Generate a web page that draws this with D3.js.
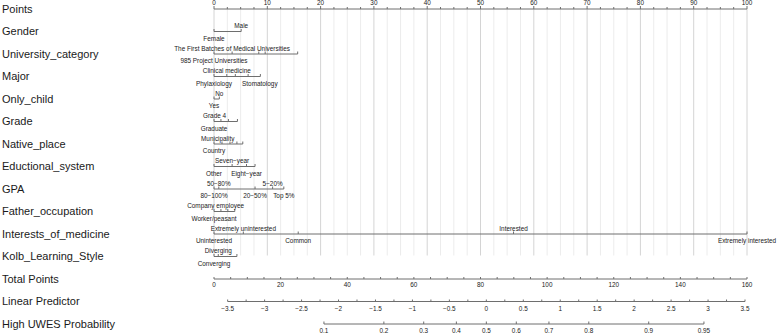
<!DOCTYPE html>
<html><head><meta charset="utf-8">
<script src="https://cdn.jsdelivr.net/npm/d3@7/dist/d3.min.js"></script>
<style>body{margin:0;background:#fff}svg{display:block}text{font-family:"Liberation Sans",Arial,sans-serif}</style>
</head><body><svg id="chart" width="777" height="334"></svg>
<script>
// ---- data ----
const rowNames = ["Points","Gender","University_category","Major","Only_child","Grade","Native_place",
  "Eductional_system","GPA","Father_occupation","Interests_of_medicine","Kolb_Learning_Style",
  "Total Points","Linear Predictor","High UWES Probability"];
const pointsTicks = [0,10,20,30,40,50,60,70,80,90,100];
const gridPoints = d3.range(0, 100.01, 2.5);

const genderLabels = ["Male","Female"], genderPoints = [5.1,0], genderSide = ["up","down"], genderTicks = [0,5.1];
const univLabels = ["The First Batches of Medical Universities","985 Project Universities"], univPoints = [3.4,0], univSide = ["up","down"], univTicks = [0,3.4,8.4,9.6,15.7];
const majorLabels = ["Clinical medicine","Phylaxiology","Stomatology"], majorPoints = [2.4,0,8.6], majorSide = ["up","down","down"], majorTicks = [0,2.4,4,6.4,8.7];
const onlyLabels = ["No","Yes"], onlyPoints = [1.0,0], onlySide = ["up","down"], onlyTicks = [0,1.0];
const gradeLabels = ["Grade 4","Graduate"], gradePoints = [0.1,0], gradeSide = ["up","down"], gradeTicks = [0,1.3,2.7,4.4];
const nativeLabels = ["Municipality","Country"], nativePoints = [0.7,0], nativeSide = ["up","down"], nativeTicks = [0,1.5,3,4.3,5.4];
const eduLabels = ["Seven\u2212year","Other","Eight\u2212year"], eduPoints = [3.4,0,6.1], eduSide = ["up","down","down"], eduTicks = [0,3.4,6.1,7.7];
const gpaLabels = ["50\u221280%","5\u221220%","80\u2212100%","20\u221250%","Top 5%"], gpaPoints = [0.9,11,0,7.7,13.1], gpaSide = ["up","up","down","down","down"], gpaTicks = [0,0.9,7.7,11,13.1];
const fatherLabels = ["Company employee","Worker/peasant"], fatherPoints = [0.3,0], fatherSide = ["up","down"], fatherTicks = [0,1.3,2.6,3.9];
const interestLabels = ["Extremely uninterested","Interested","Uninterested","Common","Extremely interested"], interestPoints = [5.5,56.2,0,15.8,100], interestSide = ["up","up","down","down","down"], interestTicks = [0,5.5,15.8,56.2,100];
const kolbLabels = ["Diverging","Converging"], kolbPoints = [0.8,0], kolbSide = ["up","down"], kolbTicks = [0,0.8,4.3];

const totalTicks = [0,20,40,60,80,100,120,140,160];
const totalMinor = d3.range(0,160.01,5);
const lpTicks = [-3.5,-3,-2.5,-2,-1.5,-1,-0.5,0,0.5,1,1.5,2,2.5,3,3.5];
const lpMinor = d3.range(-3.5,3.501,0.25);
const lpEndsTotal = [4.1,159.4];   // total points at LP -3.5 and 3.5
const probTicks = [0.1,0.2,0.3,0.4,0.5,0.6,0.7,0.8,0.9,0.95];

// ---- drawing ----
const svg = d3.select("#chart");
const x = d3.scaleLinear().domain([0,100]).range([214,747]);
const xTot = d3.scaleLinear().domain([0,160]).range([214,747]);
const xLp = d3.scaleLinear().domain([-3.5,3.5]).range([xTot(lpEndsTotal[0]), xTot(lpEndsTotal[1])]);
const logit = p => Math.log(p/(1-p));
const y = d3.scaleLinear().domain([0,14]).range([9,324]);
const lineCol = "#6e6e6e", textCol = "#1a1a1a", fs = 6.4;

// row names
svg.append("g").selectAll("text").data(rowNames).join("text")
  .attr("x",2).attr("y",(d,i)=>y(i)).attr("dy","0.36em")
  .attr("font-size",11).attr("fill",textCol).text(d=>d);

// grid
svg.append("g").selectAll("line").data(gridPoints).join("line")
  .attr("x1",d=>x(d)).attr("x2",d=>x(d)).attr("y1",y(0)).attr("y2",y(11)-1)
  .attr("stroke",d=> (d%10===0)?"#d4d4d4":"#ececec").attr("stroke-width",1);

// points axis
const pa = svg.append("g");
pa.append("line").attr("x1",x(0)).attr("x2",x(100)).attr("y1",y(0)).attr("y2",y(0)).attr("stroke",lineCol);
pa.selectAll("line.t").data(gridPoints).join("line").attr("class","t")
  .attr("x1",d=>x(d)).attr("x2",d=>x(d)).attr("y1",y(0)).attr("y2",d=>y(0)-(d%10===0?3:2)).attr("stroke",lineCol);
pa.selectAll("text").data(pointsTicks).join("text")
  .attr("x",d=>x(d)).attr("y",y(0)-6).attr("dy","0.36em").attr("text-anchor","middle")
  .attr("font-size",fs).attr("fill",textCol).text(d=>d);

// variables
const vars = [
  [genderLabels,genderPoints,genderSide,genderTicks],
  [univLabels,univPoints,univSide,univTicks],
  [majorLabels,majorPoints,majorSide,majorTicks],
  [onlyLabels,onlyPoints,onlySide,onlyTicks],
  [gradeLabels,gradePoints,gradeSide,gradeTicks],
  [nativeLabels,nativePoints,nativeSide,nativeTicks],
  [eduLabels,eduPoints,eduSide,eduTicks],
  [gpaLabels,gpaPoints,gpaSide,gpaTicks],
  [fatherLabels,fatherPoints,fatherSide,fatherTicks],
  [interestLabels,interestPoints,interestSide,interestTicks],
  [kolbLabels,kolbPoints,kolbSide,kolbTicks]
];
vars.forEach((v,i)=>{
  const [labs,pts,side,ticks] = v;
  const yy = y(i+1);
  const g = svg.append("g");
  g.append("line").attr("x1",x(d3.min(ticks))).attr("x2",x(d3.max(ticks))).attr("y1",yy).attr("y2",yy).attr("stroke",lineCol);
  g.selectAll("line.t").data(ticks).join("line").attr("class","t")
    .attr("x1",d=>x(d)).attr("x2",d=>x(d)).attr("y1",yy).attr("y2",yy-2.5).attr("stroke",lineCol);
  g.selectAll("text").data(labs).join("text")
    .attr("x",(d,j)=>x(pts[j])).attr("y",(d,j)=>side[j]==="up"?yy-5.5:yy+7)
    .attr("dy","0.36em").attr("text-anchor","middle").attr("font-size",fs).attr("fill",textCol).text(d=>d);
});

// total points
const ty = y(12);
const tg = svg.append("g");
tg.append("line").attr("x1",xTot(0)).attr("x2",xTot(160)).attr("y1",ty).attr("y2",ty).attr("stroke",lineCol);
tg.selectAll("line.t").data(totalMinor).join("line").attr("class","t")
  .attr("x1",d=>xTot(d)).attr("x2",d=>xTot(d)).attr("y1",ty).attr("y2",ty-2).attr("stroke",lineCol);
tg.selectAll("text").data(totalTicks).join("text")
  .attr("x",d=>xTot(d)).attr("y",ty+6).attr("dy","0.36em").attr("text-anchor","middle")
  .attr("font-size",fs).attr("fill",textCol).text(d=>d);

// linear predictor
const ly = y(13);
const lg = svg.append("g");
lg.append("line").attr("x1",xLp(-3.5)).attr("x2",xLp(3.5)).attr("y1",ly).attr("y2",ly).attr("stroke",lineCol);
lg.selectAll("line.t").data(lpMinor).join("line").attr("class","t")
  .attr("x1",d=>xLp(d)).attr("x2",d=>xLp(d)).attr("y1",ly).attr("y2",ly-2).attr("stroke",lineCol);
lg.selectAll("text").data(lpTicks).join("text")
  .attr("x",d=>xLp(d)).attr("y",ly+7).attr("dy","0.36em").attr("text-anchor","middle")
  .attr("font-size",fs).attr("fill",textCol).text(d=>String(d).replace("-","\u2212"));

// probability
const py = y(14);
const pg = svg.append("g");
pg.append("line").attr("x1",xLp(logit(0.1))).attr("x2",xLp(logit(0.95))).attr("y1",py).attr("y2",py).attr("stroke",lineCol);
pg.selectAll("line.t").data(probTicks).join("line").attr("class","t")
  .attr("x1",d=>xLp(logit(d))).attr("x2",d=>xLp(logit(d))).attr("y1",py).attr("y2",py-2.5).attr("stroke",lineCol);
pg.selectAll("text").data(probTicks).join("text")
  .attr("x",d=>xLp(logit(d))).attr("y",py+7).attr("dy","0.36em").attr("text-anchor","middle")
  .attr("font-size",fs).attr("fill",textCol).text(d=>d);
</script></body></html>
